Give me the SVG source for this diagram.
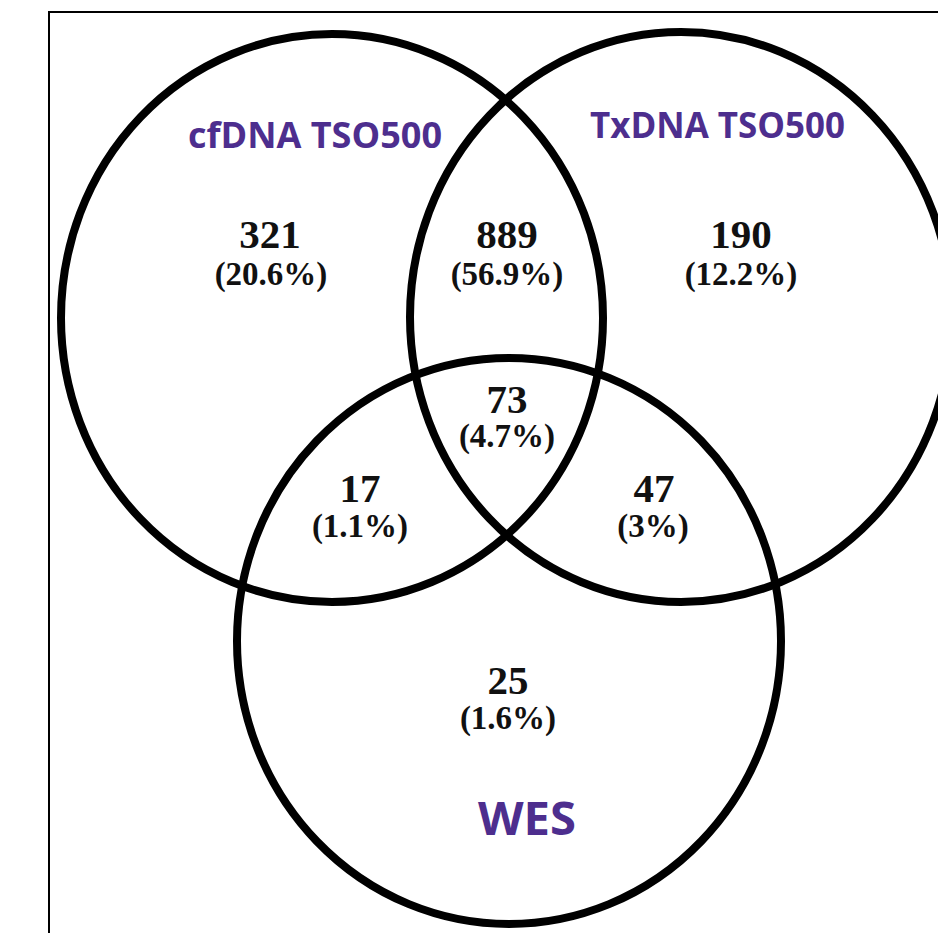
<svg xmlns="http://www.w3.org/2000/svg" width="938" height="933" viewBox="0 0 938 933">
  <style>
    .set { fill: none; stroke: #000; stroke-width: 8; }
    .frame { fill: none; stroke: #000; stroke-width: 2; }
    .num { font-family: "Liberation Serif", "Times New Roman", serif; font-weight: bold; font-size: 41px; fill: #111; text-anchor: middle; }
    .pct { font-family: "Liberation Serif", "Times New Roman", serif; font-weight: bold; font-size: 33px; fill: #111; text-anchor: middle; }
    .title { font-family: "Open Sans", "Liberation Sans", sans-serif; font-weight: bold; font-size: 36px; fill: #4D2E8E; }
  </style>
  <rect width="938" height="933" fill="#fff"/>
  <rect class="frame" x="49" y="12" width="920" height="940"/>

  <g id="set-cfdna">
    <ellipse class="set" cx="332" cy="318" rx="271" ry="284"/>
    <text class="title" x="188" y="148" textLength="254" lengthAdjust="spacingAndGlyphs">cfDNA TSO500</text>
  </g>
  <g id="set-txdna">
    <ellipse class="set" cx="681" cy="317" rx="271" ry="285"/>
    <text class="title" x="590" y="138" textLength="255" lengthAdjust="spacingAndGlyphs">TxDNA TSO500</text>
  </g>
  <g id="set-wes">
    <ellipse class="set" cx="509" cy="641" rx="272" ry="283"/>
    <text class="title" x="478" y="835" style="font-size:46px" textLength="98" lengthAdjust="spacingAndGlyphs">WES</text>
  </g>

  <g id="region-cfdna-only">
    <text class="num" x="270" y="248">321</text>
    <text class="pct" x="271" y="285">(20.6%)</text>
  </g>
  <g id="region-cfdna-txdna">
    <text class="num" x="507" y="248">889</text>
    <text class="pct" x="507" y="285">(56.9%)</text>
  </g>
  <g id="region-txdna-only">
    <text class="num" x="741" y="248">190</text>
    <text class="pct" x="741" y="285">(12.2%)</text>
  </g>
  <g id="region-all">
    <text class="num" x="507" y="413">73</text>
    <text class="pct" x="507" y="447">(4.7%)</text>
  </g>
  <g id="region-cfdna-wes">
    <text class="num" x="360" y="502">17</text>
    <text class="pct" x="360" y="537">(1.1%)</text>
  </g>
  <g id="region-txdna-wes">
    <text class="num" x="654" y="502">47</text>
    <text class="pct" x="653" y="537">(3%)</text>
  </g>
  <g id="region-wes-only">
    <text class="num" x="508" y="694">25</text>
    <text class="pct" x="508" y="729">(1.6%)</text>
  </g>
  <g id="connectors"/>
</svg>
